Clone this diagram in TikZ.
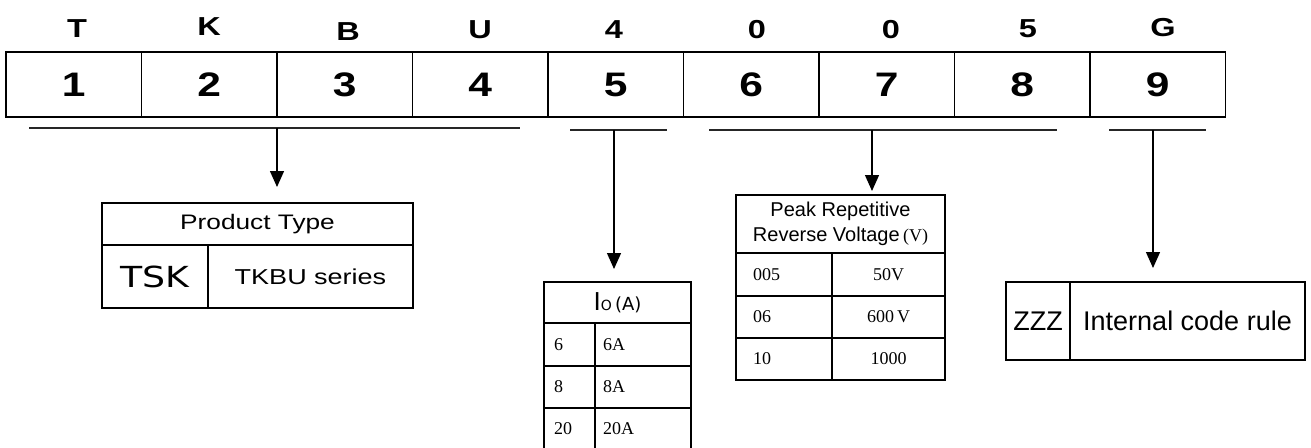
\documentclass[tikz,border=0pt]{standalone}
\usepackage{fontspec}
\setmainfont{Liberation Serif}
\setsansfont{Liberation Sans}
\newfontfamily\widesans{Liberation Sans}[FakeStretch=1.25]
\newfontfamily\tskfont{DejaVu Sans}[FakeStretch=1.25]
\newfontfamily\iofont{DejaVu Sans}
\usetikzlibrary{arrows.meta}

\begin{document}
\begin{tikzpicture}[x=0.5pt, y=-0.5pt,
    digitbox/.style={draw, line width=0.75pt, inner sep=0pt, outer sep=0pt,
        minimum width=67.75pt, minimum height=32.5pt,
        font=\widesans\bfseries\fontsize{17}{19}\selectfont},
    letter/.style={inner sep=0pt, font=\widesans\bfseries\fontsize{13}{15}\selectfont},
    bracket/.style={line width=0.65pt, black!85},
    arrowline/.style={line width=0.65pt, -{Triangle[width=7pt,length=8pt]}},
    cellbox/.style={draw, line width=0.6pt, inner sep=0pt, outer sep=0pt},
    valcell/.style={cellbox, font=\rmfamily\fontsize{9}{10}\selectfont, align=left}]
    \useasboundingbox (0,0) rectangle (1311,447);

    % code positions
    \node[digitbox] at (73.75,84.5)   (c1) {1};
    \node[digitbox] at (209.25,84.5)  (c2) {2};
    \node[digitbox] at (344.75,84.5)  (c3) {3};
    \node[digitbox] at (480.25,84.5)  (c4) {4};
    \node[digitbox] at (615.75,84.5)  (c5) {5};
    \node[digitbox] at (751.25,84.5)  (c6) {6};
    \node[digitbox] at (886.75,84.5)  (c7) {7};
    \node[digitbox] at (1022.25,84.5) (c8) {8};
    \node[digitbox] at (1157.75,84.5) (c9) {9};

    \node[letter] at (77,29)   (k1) {T};
    \node[letter] at (209,27)  (k2) {K};
    \node[letter] at (348,32)  (k3) {B};
    \node[letter] at (480,30)  (k4) {U};
    \node[letter] at (614,30)  (k5) {4};
    \node[letter] at (757,30)  (k6) {0};
    \node[letter] at (891,30)  (k7) {0};
    \node[letter] at (1028,29) (k8) {5};
    \node[letter] at (1163,28) (k9) {G};

    % brackets under the groups
    \draw[bracket] (29,128) -- (520,128);
    \draw[bracket] (570,130) -- (667,130);
    \draw[bracket] (709,130) -- (1057,130);
    \draw[bracket] (1109,130) -- (1206,130);
    \coordinate (b1) at (277,128);
    \coordinate (b2) at (614,130);
    \coordinate (b3) at (872,130);
    \coordinate (b4) at (1153,130);

    % product type
    \node[cellbox, minimum width=155.5pt, minimum height=21pt,
        font=\widesans\fontsize{10.5}{12}\selectfont] at (257.5,224) (ptype) {Product Type};
    \node[cellbox, minimum width=53pt, minimum height=31.5pt,
        font=\tskfont\fontsize{14.5}{16}\selectfont] at (155,276.5) (tsk) {TSK};
    \node[cellbox, minimum width=102.5pt, minimum height=31.5pt,
        font=\widesans\fontsize{10.8}{12}\selectfont] at (310.5,276.5) (tkbu) {TKBU series};

    % current
    \node[cellbox, minimum width=73.5pt, minimum height=20.5pt] at (617.5,302.5) (io)
        {\iofont{\fontsize{12.3}{14}\selectfont I}{\fontsize{7}{8}\selectfont O}\,{\fontsize{9}{10}\selectfont(A)}};
    \node[valcell, inner xsep=5pt, text width=15.5pt, minimum height=21.5pt] at (569.5,344.5) (io1a) {6};
    \node[valcell, inner xsep=4pt, text width=40pt, minimum height=21.5pt] at (643,344.5) (io1b) {6A};
    \node[valcell, inner xsep=5pt, text width=15.5pt, minimum height=21pt] at (569.5,387) (io2a) {8};
    \node[valcell, inner xsep=4pt, text width=40pt, minimum height=21pt] at (643,387) (io2b) {8A};
    \node[valcell, inner xsep=5pt, text width=15.5pt, minimum height=21pt] at (569.5,429) (io3a) {20};
    \node[valcell, inner xsep=4pt, text width=40pt, minimum height=21pt] at (643,429) (io3b) {20A};

    % voltage
    \node[cellbox, minimum width=104.5pt, minimum height=29pt, align=center,
        font=\sffamily\fontsize{10}{12.5}\selectfont] at (840.5,224) (vrrm)
        {Peak Repetitive\\Reverse Voltage\,{\rmfamily\fontsize{9}{10}\selectfont(V)}};
    \node[valcell, inner xsep=8.5pt, text width=31pt, minimum height=21.5pt] at (784,274.5) (v1a) {005};
    \node[valcell, align=center, minimum width=56.5pt, minimum height=21.5pt] at (888.5,274.5) (v1b) {50V};
    \node[valcell, inner xsep=8.5pt, text width=31pt, minimum height=21pt] at (784,317) (v2a) {06};
    \node[valcell, align=center, minimum width=56.5pt, minimum height=21pt] at (888.5,317) (v2b) {600\,V};
    \node[valcell, inner xsep=8.5pt, text width=31pt, minimum height=21pt] at (784,359) (v3a) {10};
    \node[valcell, align=center, minimum width=56.5pt, minimum height=21pt] at (888.5,359) (v3b) {1000};

    % internal code
    \node[cellbox, minimum width=32pt, minimum height=39pt,
        font=\sffamily\fontsize{13.5}{15}\selectfont] at (1038,321) (zzz) {ZZZ};
    \node[cellbox, minimum width=117.5pt, minimum height=39pt,
        font=\sffamily\fontsize{13.5}{15}\selectfont] at (1187.5,321) (rule) {Internal code rule};

    \draw[arrowline, shorten >=8pt] (b1) -- (b1 |- ptype.north);
    \draw[arrowline, shorten >=6.5pt] (b2) -- (b2 |- io.north);
    \draw[arrowline, shorten >=2pt] (b3) -- (b3 |- vrrm.north);
    \draw[arrowline, shorten >=7pt] (b4) -- (b4 |- rule.north);
\end{tikzpicture}
\end{document}
